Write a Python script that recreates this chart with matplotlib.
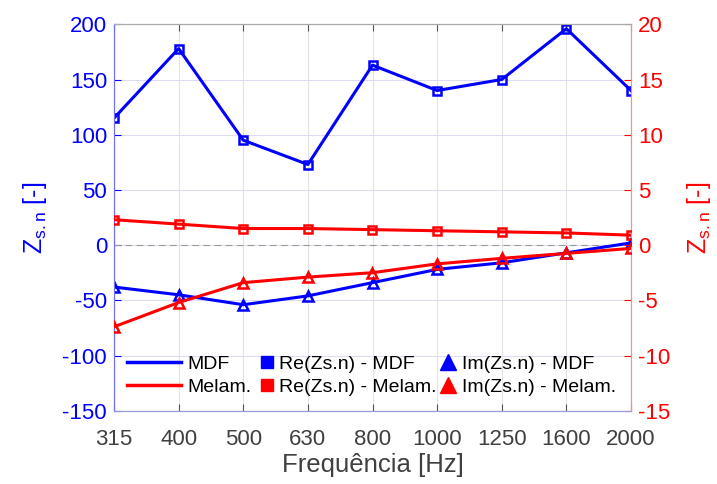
import numpy as np
import matplotlib
matplotlib.use('Agg')
import matplotlib.pyplot as plt
from matplotlib.lines import Line2D

plt.rcParams['font.family'] = ['Liberation Sans', 'DejaVu Sans']
plt.rcParams['mathtext.fontset'] = 'custom'
plt.rcParams['mathtext.rm'] = 'Liberation Sans'
plt.rcParams['axes.unicode_minus'] = False

# frequency bands (categorical x axis)
freqs = ['315', '400', '500', '630', '800', '1000', '1250', '1600', '2000']

# MDF (left axis)
re_mdf = [115, 178, 95, 73, 163, 140, 150, 196, 140]
im_mdf = [-38, -45, -54, -46, -34, -22, -16, -7, 2]

# Melamine (right axis)
re_melam = [2.3, 1.9, 1.5, 1.5, 1.4, 1.3, 1.2, 1.1, 0.9]
im_melam = [-7.4, -5.2, -3.4, -2.9, -2.5, -1.7, -1.2, -0.75, -0.3]

left_ticks = np.arange(-150, 201, 50)
right_ticks = np.arange(-15, 21, 5)

blue = (0, 0, 1)
red = (1, 0, 0)
gray_txt = '#404040'

x = np.arange(len(freqs))

fig = plt.figure(figsize=(7.17, 4.84), dpi=100)
ax = fig.add_axes([114 / 717, 1 - 410.7 / 484, 517 / 717, 386.4 / 484])
ax2 = ax.twinx()

# grid
ax.set_axisbelow(True)
for yv in left_ticks:
    ax.axhline(yv, color='#dcdcf6', lw=0.8, zorder=0)
for xv in x:
    ax.axvline(xv, color='#e2e2e2', lw=0.8, zorder=0)
ax.axhline(0, color='#9a9a9a', lw=0.8, ls=(0, (6, 4)), zorder=1)

lw = 2.2
sq = dict(marker='s', ms=5.5, mfc='none', mew=1.8)
tri = dict(marker='^', ms=7.5, mfc='none', mew=1.8)
ax.plot(x, re_mdf, color=blue, lw=lw, zorder=3, **sq)
ax.plot(x, im_mdf, color=blue, lw=lw, zorder=3, **tri)
ax2.plot(x, re_melam, color=red, lw=lw, zorder=3, **sq)
ax2.plot(x, im_melam, color=red, lw=lw, zorder=3, **tri)

ax.set_xlim(0, len(freqs) - 1)
ax.set_ylim(-150, 200)
ax2.set_ylim(-15, 20)
ax.set_xticks(x)
ax.set_xticklabels(freqs)
ax.set_yticks(left_ticks)
ax2.set_yticks(right_ticks)

fs = 16
ax.tick_params(axis='x', colors='#555555', labelcolor=gray_txt, labelsize=fs,
               direction='in', length=5, top=True, pad=13)
ax.tick_params(axis='y', colors=blue, labelcolor=blue, labelsize=fs,
               direction='in', length=5, pad=5)
ax2.tick_params(axis='y', colors=red, labelcolor=red, labelsize=fs,
                direction='in', length=5, pad=5)

for a in (ax, ax2):
    a.spines['top'].set_color('#aaaaaa')
    a.spines['bottom'].set_color('#9999dd')
    a.spines['left'].set_color('#6f6fff')
    a.spines['right'].set_color('#ff8c8c')

ax.set_xlabel('Frequência [Hz]', fontsize=18.5, color=gray_txt, labelpad=2)
ax.set_ylabel(r'$\mathregular{Z_{s.n}}$ [-]', fontsize=18, color=blue, labelpad=10)
ax2.set_ylabel(r'$\mathregular{Z_{s.n}}$ [-]', fontsize=18, color=red, rotation=90, labelpad=11)

# legends (three column groups)
lfs = 14
h_lines = [Line2D([], [], color=blue, lw=2.5), Line2D([], [], color=red, lw=2.5)]
h_re = [Line2D([], [], color=blue, ls='none', marker='s', ms=9),
        Line2D([], [], color=red, ls='none', marker='s', ms=9)]
h_im = [Line2D([], [], color=blue, ls='none', marker='^', ms=12),
        Line2D([], [], color=red, ls='none', marker='^', ms=12)]

common = dict(loc='center left', frameon=False, fontsize=lfs, borderpad=0,
              borderaxespad=0, labelspacing=0.3)
yleg = (410.7 - 375.5) / 386.4
leg1 = ax2.legend(h_lines, ['MDF', 'Melam.'], bbox_to_anchor=(0.025, yleg),
                  handlelength=2.8, handletextpad=0.3, **common)
ax2.add_artist(leg1)
leg2 = ax2.legend(h_re, ['Re(Zs.n) - MDF', 'Re(Zs.n) - Melam.'],
                  bbox_to_anchor=(0.279, yleg), handlelength=0.9,
                  handletextpad=0.15, **common)
ax2.add_artist(leg2)
ax2.legend(h_im, ['Im(Zs.n) - MDF', 'Im(Zs.n) - Melam.'],
           bbox_to_anchor=(0.63, yleg), handlelength=0.9,
           handletextpad=0.25, **common)

fig.savefig('out.png', dpi=100)
